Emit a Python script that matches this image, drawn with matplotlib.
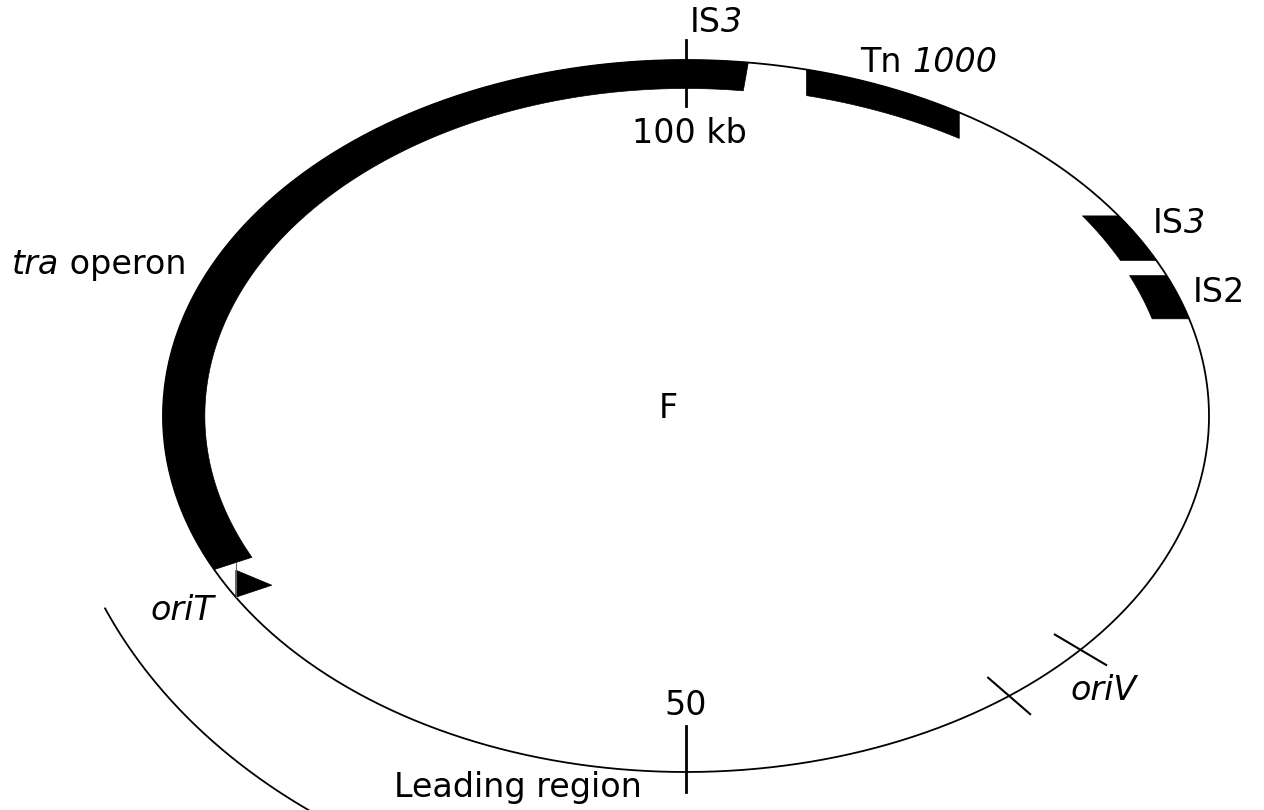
import numpy as np
import matplotlib.pyplot as plt
from matplotlib.patches import Polygon

# map of the F plasmid (100 kb), positions in kb running clockwise from the top
PLASMID_KB = 100

band_names = ["tra operon", "Tn1000", "IS3", "IS2"]
band_start = [67.9, 3.7, 15.5, 18.55]
band_end = [101.9, 8.75, 17.8, 20.6]

tick_kb = [100, 50]
oriV_kb = [36.4, 39.4]
oriT_kb = 66.5
leading_kb = [59.0, 68.6]

# geometry of the drawing (pixels)
W, H = 1264, 810
CX, CY = 686, 416
RX, RY = 523, 356
FS = 24

# how the inner edge of each band is made: radial scale, or a shift in px
band_edge = [("r", 0.92), ("y", 26), ("x", 36), ("x", 37)]


def ang(kb):
    return np.deg2rad(90 - 360 * np.asarray(kb) / PLASMID_KB)


def pt(kb, r=1.0, sx=1.0, sy=1.0):
    t = ang(kb)
    return CX + r * sx * RX * np.cos(t), CY - r * sy * RY * np.sin(t)


def rich(x, y, parts):
    # a label made of pieces, some of them italic, laid out left to right
    prev = None
    for s, style in parts:
        if prev is None:
            prev = ax.text(x, y, s, style=style, fontsize=FS,
                           ha="left", va="baseline")
        else:
            prev = ax.annotate(s, xy=(1, 0), xycoords=prev, style=style,
                               fontsize=FS, ha="left", va="bottom")


fig = plt.figure(figsize=(W / 100, H / 100), dpi=100)
ax = fig.add_axes([0, 0, 1, 1])
ax.set_xlim(0, W)
ax.set_ylim(H, 0)
ax.axis("off")

# backbone
kb = np.linspace(0, PLASMID_KB, 720)
x, y = pt(kb)
ax.plot(x, y, color="black", lw=1.3)

# black feature bands
for s, e, (mode, v) in zip(band_start, band_end, band_edge):
    k = np.linspace(s, e, 200)
    xo, yo = pt(k)
    if mode == "r":
        xi, yi = pt(k, v)
    elif mode == "x":
        xi, yi = xo - v, yo
    else:
        xi, yi = xo, yo + v
    poly = Polygon(np.column_stack([np.r_[xo, xi[::-1]], np.r_[yo, yi[::-1]]]),
                   closed=True, facecolor="black", edgecolor="black", lw=0.5)
    ax.add_patch(poly)

# kb ticks
for k in tick_kb:
    xs, ys = pt([k, k], np.array([0.87, 1.055]))
    ax.plot(xs, ys, color="black", lw=2)

# oriV crosses
for k in oriV_kb:
    xs, ys = pt([k, k], np.array([0.935, 1.065]))
    ax.plot(xs, ys, color="black", lw=1.5)

# oriT arrow
x0, y0 = pt(oriT_kb)
tri = Polygon([[x0, y0], [x0, y0 - 27], [x0 + 36, y0 - 12]], closed=True,
              facecolor="black", edgecolor="black", lw=0.5)
ax.add_patch(tri)
ax.plot([x0, x0], [y0 - 34, y0], color="0.4", lw=0.8)

# leading region arc
k = np.linspace(leading_kb[0], leading_kb[1], 200)
xl, yl = pt(k, 1.0, 1.207, 1.381)
ax.plot(xl, yl, color="black", lw=1.3)

# labels
txt = dict(fontsize=FS, va="baseline", color="black")
rich(690, 32, [("IS", "normal"), ("3", "italic")])
ax.text(689, 143, "100 kb", ha="center", **txt)
rich(860, 72, [("Tn ", "normal"), ("1000", "italic")])
rich(1153, 233, [("IS", "normal"), ("3", "italic")])
ax.text(1193, 302, "IS2", ha="left", **txt)
rich(12, 274, [("tra", "italic"), (" operon", "normal")])
ax.text(668, 418, "F", ha="center", **txt)
ax.text(182, 620, "oriT", ha="center", style="italic", **txt)
ax.text(1104, 700, "oriV", ha="center", style="italic", **txt)
ax.text(686, 715, "50", ha="center", **txt)
ax.text(518, 797, "Leading region", ha="center", **txt)

fig.savefig("out.png", dpi=100)
